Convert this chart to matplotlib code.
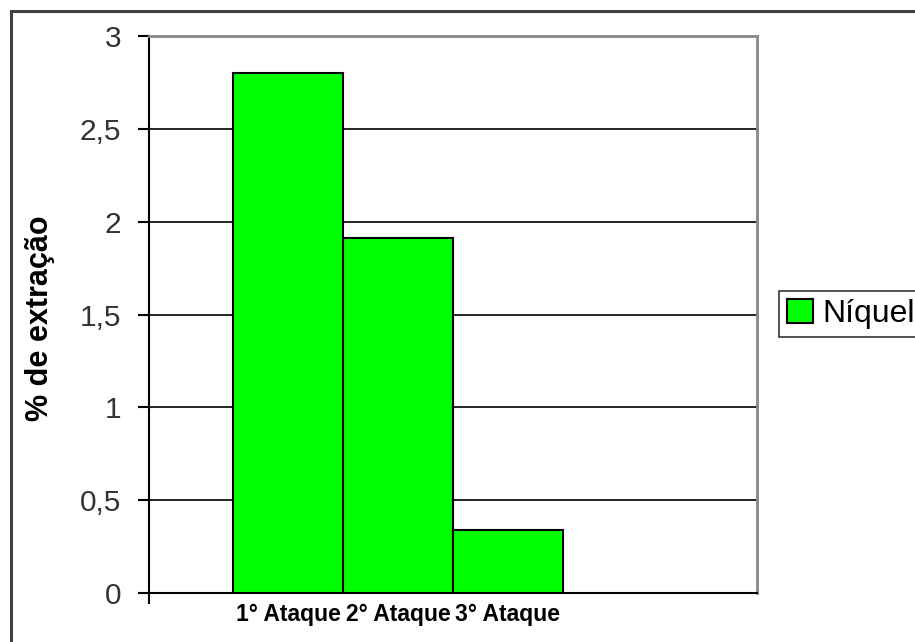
import matplotlib
matplotlib.use("Agg")
import matplotlib.pyplot as plt
from matplotlib.patches import Rectangle

plt.rcParams['font.family'] = ['Liberation Sans', 'DejaVu Sans']

# data
categories = ["1° Ataque", "2° Ataque", "3° Ataque"]
valores = [2.80, 1.91, 0.34]
serie = "Níquel"
yticks = [0, 0.5, 1, 1.5, 2, 2.5, 3]
ytick_labels = ["0", "0,5", "1", "1,5", "2", "2,5", "3"]

fig = plt.figure(figsize=(9.15, 6.42), dpi=100)
ax = fig.add_axes([149/915, 1-593/642, (757-149)/915, (593-36)/642])

# outer chart frame (runs past the right and bottom edge)
fig.patches.append(Rectangle((11/915, -0.1), 1.2, 1-11/642+0.1, transform=fig.transFigure,
                             fill=False, edgecolor="#404040", linewidth=2.2, zorder=0))

pos = list(range(len(categories)))
ax.bar(pos, valores, width=1.0, color="#00ff00", edgecolor="black", linewidth=1.5,
       label=serie, zorder=3)

ax.set_xlim(-1.264, 4.264)
ax.set_ylim(0, 3)
ax.set_yticks(yticks)
ax.set_yticklabels(ytick_labels)
for y in yticks[1:-1]:
    ax.axhline(y, color="black", linewidth=1.2, zorder=1)

ax.set_xticks(pos)
ax.set_xticklabels(categories, fontsize=16.5, fontweight="bold")
ax.tick_params(axis="x", length=0, pad=7)
ax.set_xticks([-1.264], minor=True)
ax.tick_params(axis="x", which="minor", length=8, width=1.5, direction="out", color="black")
ax.tick_params(axis="y", length=8, width=1.5, pad=12, labelsize=21.5, labelcolor="#333333")

ax.spines["left"].set_linewidth(1.5)
ax.spines["bottom"].set_linewidth(1.5)
ax.spines["top"].set_color("#888888")
ax.spines["right"].set_color("#888888")
ax.spines["top"].set_linewidth(2)
ax.spines["right"].set_linewidth(2)

fig.text(40/915, 1-318/642, "% de extração", rotation=90, ha="center", va="center",
         fontsize=22, fontweight="bold")

leg = ax.legend(loc="upper left", bbox_to_anchor=(779/915, 1-291/642),
                bbox_transform=fig.transFigure, fontsize=23, frameon=True, fancybox=False,
                handlelength=0.8, handleheight=0.8, handletextpad=0.3, borderpad=0.25,
                borderaxespad=0)
leg.get_frame().set_edgecolor("black")
leg.get_frame().set_linewidth(1.2)

fig.savefig("out.png", dpi=100)
